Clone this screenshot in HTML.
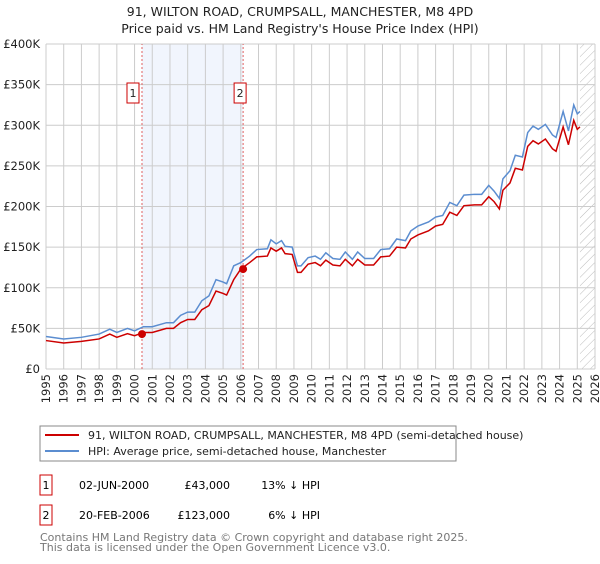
<!DOCTYPE html>
<html><head><meta charset="utf-8"><style>
body{margin:0;background:#fff;font-family:"DejaVu Sans","Liberation Sans",sans-serif;}
</style></head><body>
<svg width="600" height="560" xmlns="http://www.w3.org/2000/svg" font-family="DejaVu Sans, Liberation Sans, sans-serif">
<text x="300" y="16" text-anchor="middle" font-size="12.5" fill="#222">91, WILTON ROAD, CRUMPSALL, MANCHESTER, M8 4PD</text>
<text x="300" y="33" text-anchor="middle" font-size="12.5" fill="#222">Price paid vs. HM Land Registry's House Price Index (HPI)</text>
<defs><pattern id="hatch" width="6" height="6" patternUnits="userSpaceOnUse" patternTransform="rotate(45)"><line x1="0" y1="0" x2="0" y2="6" stroke="#bbb" stroke-width="1"/></pattern></defs>
<g id="grid"></g>
<g id="marks"></g>
<g id="axes"></g>
<rect x="40" y="426" width="416" height="35" fill="#fff" stroke="#888"/>
<line x1="45" y1="435" x2="79" y2="435" stroke="#cc0000" stroke-width="2"/>
<text x="88" y="439" font-size="11" fill="#222">91, WILTON ROAD, CRUMPSALL, MANCHESTER, M8 4PD (semi-detached house)</text>
<line x1="45" y1="451" x2="79" y2="451" stroke="#5b8dd0" stroke-width="2"/>
<text x="88" y="455" font-size="11" fill="#222">HPI: Average price, semi-detached house, Manchester</text>
<g>
<rect x="40" y="475" width="12" height="20" fill="#fff" stroke="#cc0000"/><text x="46" y="489" text-anchor="middle" font-size="11">1</text>
<text x="79" y="489" font-size="11">02-JUN-2000</text><text x="230" y="489" font-size="11" text-anchor="end">£43,000</text><text x="320" y="489" font-size="11" text-anchor="end">13% ↓ HPI</text></g>
<g>
<rect x="40" y="505" width="12" height="20" fill="#fff" stroke="#cc0000"/><text x="46" y="519" text-anchor="middle" font-size="11">2</text>
<text x="79" y="519" font-size="11">20-FEB-2006</text><text x="230" y="519" font-size="11" text-anchor="end">£123,000</text><text x="320" y="519" font-size="11" text-anchor="end">6% ↓ HPI</text></g>
<text x="40" y="541" font-size="11" fill="#777">Contains HM Land Registry data © Crown copyright and database right 2025.</text>
<text x="40" y="551" font-size="11" fill="#777">This data is licensed under the Open Government Licence v3.0.</text>
</svg>
<script>
const years=[1995,1996,1997,1998,1998.6,1999,1999.6,2000,2000.5,2001,2001.8,2002.2,2002.6,2003,2003.4,2003.8,2004.2,2004.6,2005,2005.2,2005.6,2006,2006.5,2006.9,2007.5,2007.7,2008,2008.3,2008.5,2008.9,2009.2,2009.4,2009.8,2010.2,2010.5,2010.8,2011.2,2011.6,2011.9,2012.3,2012.6,2013,2013.5,2013.9,2014.4,2014.8,2015.3,2015.6,2016,2016.6,2017,2017.4,2017.8,2018.2,2018.6,2019.2,2019.6,2020,2020.3,2020.6,2020.8,2021.2,2021.5,2021.9,2022.2,2022.5,2022.8,2023.2,2023.6,2023.8,2024.2,2024.5,2024.8,2025,2025.15];
const hpiValues=[40,37,39,43,49,45,50,47,52,52,57,57,66,70,70,84,90,110,107,105,127,131,139,147,148,159,154,158,151,150,127,127,137,139,135,143,136,135,144,135,144,136,136,147,148,160,158,170,176,181,187,189,205,201,214,215,215,226,219,210,234,244,263,261,291,299,295,301,288,285,317,293,325,314,317];
const priceValues=[35,32,34,37,43,39,43.5,41,45,45,50,50,57,61,61,73,78,96,93,91,110,123,131,138,139,149,145,149,142,141,119,119,129,131,127,134,128,127,135,127,135,128,128,138,139,150,149,160,165,170,176,178,193,189,201,202,202,212,206,197,220,229,247,245,274,281,277,283,271,268,298,276,306,295,298];
const saleYears=[2000.42,2006.13];
const saleValues=[43,123];
const saleLabels=["1","2"];
const yTicks=[0,50,100,150,200,250,300,350,400];
const yTickLabels=["£0","£50K","£100K","£150K","£200K","£250K","£300K","£350K","£400K"];
const xTicks=[1995,1996,1997,1998,1999,2000,2001,2002,2003,2004,2005,2006,2007,2008,2009,2010,2011,2012,2013,2014,2015,2016,2017,2018,2019,2020,2021,2022,2023,2024,2025,2026];
const NS="http://www.w3.org/2000/svg";
const X=y=>46+(y-1995)*(549/31);
const Y=v=>369-v*(325/400);
function mk(t,a,p){const e=document.createElementNS(NS,t);for(const k in a)e.setAttribute(k,a[k]);p.appendChild(e);return e;}
const grid=document.getElementById('grid'),marks=document.getElementById('marks'),axes=document.getElementById('axes');
mk('rect',{x:X(saleYears[0]),y:Y(400),width:X(saleYears[1])-X(saleYears[0]),height:Y(0)-Y(400),fill:'#eef3fc',opacity:0.8},grid);
mk('rect',{x:X(2025.15),y:Y(400),width:X(2026)-X(2025.15),height:Y(0)-Y(400),fill:'url(#hatch)'},grid);
xTicks.forEach(t=>{const l=mk('line',{x1:X(t),x2:X(t),y1:Y(0),y2:Y(400),stroke:'#ccc'},grid);


const px=X(t)+4,py=374;
const tx=mk('text',{x:px,y:py,'text-anchor':'end','font-size':11.5,fill:'#222',transform:'rotate(-90 '+px+' '+py+')'},axes);tx.textContent=t;

});
yTicks.forEach((t,i)=>{const l=mk('line',{x1:X(1995),x2:X(2026),y1:Y(t),y2:Y(t),stroke:'#ccc'},grid);


const tx=mk('text',{x:40,y:Y(t)+4,'text-anchor':'end','font-size':11.5,fill:'#222'},axes);tx.textContent=yTickLabels[i];

});
saleYears.forEach((s,i)=>{const l=mk('line',{x1:X(s),x2:X(s),y1:Y(0),y2:Y(400),stroke:'#e06060','stroke-dasharray':'2,2'},grid);


const bx=X(s)-(i==0?9:3);
const r=mk('rect',{x:bx-6,y:83,width:12,height:20,fill:'#fff',stroke:'#cc0000'},axes);


const tx=mk('text',{x:bx,y:97,'text-anchor':'middle','font-size':11,fill:'#222'},axes);tx.textContent=saleLabels[i];

});
const hp=mk('polyline',{points:years.map((y,i)=>X(y)+','+Y(hpiValues[i])).join(' '),fill:'none',stroke:'#5b8dd0','stroke-width':1.5},marks);


const pp=mk('polyline',{points:years.map((y,i)=>X(y)+','+Y(priceValues[i])).join(' '),fill:'none',stroke:'#cc0000','stroke-width':1.5},marks);


saleYears.forEach((s,i)=>{const c=mk('circle',{cx:X(s),cy:Y(saleValues[i]),r:4,fill:'#cc0000'},marks);

});
</script>
</body></html>
